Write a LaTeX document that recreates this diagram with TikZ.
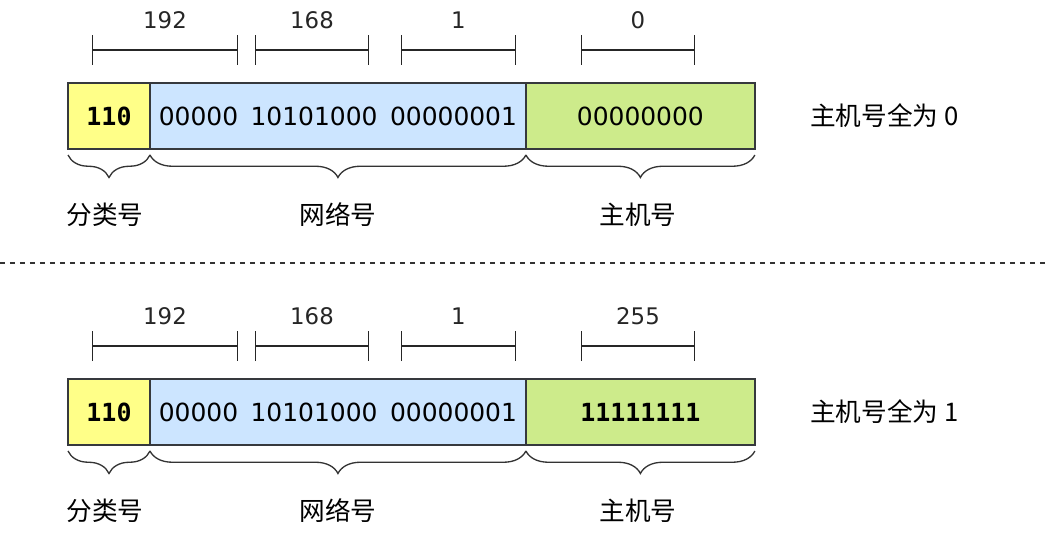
\documentclass[tikz,border=0pt]{standalone}
\usepackage{fontspec}
\setmainfont{DejaVu Sans}
\newfontfamily\cjk{Noto Sans CJK SC}
\newfontfamily\bitmono{DejaVu Sans Mono}
\usetikzlibrary{arrows.meta, positioning, decorations.pathreplacing}
\definecolor{clsyellow}{HTML}{FFFF88}
\definecolor{netblue}{HTML}{CCE5FF}
\definecolor{hostgreen}{HTML}{CDEB8B}
\definecolor{edgegray}{HTML}{36393D}
\newcommand{\octgap}{\hspace{0.5em}}
\tikzset{
  field/.style = {draw=edgegray, line width=0.8pt, minimum height=1.32cm,
    inner sep=0pt, outer sep=0pt, font=\fontsize{14.2pt}{16pt}\selectfont},
  boldbits/.style = {font=\bitmono\bfseries\fontsize{14.2pt}{16pt}\selectfont},
  octet/.style = {{Bar[width=0.6cm]}-{Bar[width=0.6cm]}, line width=0.75pt, black!85},
  octetnum/.style = {font=\fontsize{13pt}{15pt}\selectfont, black!85},
  part/.style = {decorate, decoration={brace, mirror, amplitude=0.45cm, raise=0.12cm},
    line width=0.75pt, black!80},
  tag/.style = {font=\cjk\fontsize{14.6pt}{17pt}\selectfont},
  note/.style = {font=\cjk\fontsize{14.6pt}{17pt}\selectfont, inner sep=0pt},
  cut/.style = {line width=0.8pt, dash pattern=on 0.11cm off 0.09cm, black!80}
}

\begin{document}
\begin{tikzpicture}[x=0.02cm, y=0.02cm]
  \useasboundingbox (0,0) rectangle (1048,539);

  % host part all zeros
  \node (cls1) [field, boldbits, fill=clsyellow, minimum width=1.64cm] at (109,423) {110};
  \node (net1) [field, fill=netblue, minimum width=7.52cm, right=0pt of cls1] {00000\octgap 10101000\octgap 00000001};
  \node (host1) [field, fill=hostgreen, minimum width=4.58cm, right=0pt of net1] {00000000};
  \node (note1) [note, right=1.1cm of host1] {主机号全为 0};

  \coordinate (o1a) at (92,489);  \coordinate (o1b) at (238,489);
  \coordinate (o2a) at (255,489); \coordinate (o2b) at (369,489);
  \coordinate (o3a) at (401,489); \coordinate (o3b) at (516,489);
  \coordinate (o4a) at (581,489); \coordinate (o4b) at (695,489);
  \draw[octet] (o1a) -- (o1b) node (n1) [octetnum, midway, yshift=0.6cm] {192};
  \draw[octet] (o2a) -- (o2b) node (n2) [octetnum, midway, yshift=0.6cm] {168};
  \draw[octet] (o3a) -- (o3b) node (n3) [octetnum, midway, yshift=0.6cm] {1};
  \draw[octet] (o4a) -- (o4b) node (n4) [octetnum, midway, yshift=0.6cm] {0};

  \draw[part] (cls1.south west) -- (cls1.south east);
  \draw[part] (net1.south west) -- (net1.south east);
  \draw[part] (host1.south west) -- (host1.south east);
  \node (clstag1) [tag] at ([xshift=-0.08cm, yshift=-1.98cm]cls1) {分类号};
  \node (nettag1) [tag] at ([yshift=-1.98cm]net1) {网络号};
  \node (hosttag1) [tag] at ([xshift=-0.05cm, yshift=-1.98cm]host1) {主机号};

  % separator
  \coordinate (cutl) at (0,276);
  \coordinate (cutr) at (1048,276);
  \draw[cut] (cutl) -- (cutr);

  % host part all ones
  \node (cls2) [field, boldbits, fill=clsyellow, minimum width=1.64cm] at (109,127) {110};
  \node (net2) [field, fill=netblue, minimum width=7.52cm, right=0pt of cls2] {00000\octgap 10101000\octgap 00000001};
  \node (host2) [field, boldbits, fill=hostgreen, minimum width=4.58cm, right=0pt of net2] {11111111};
  \node (note2) [note, right=1.1cm of host2] {主机号全为 1};

  \coordinate (p1a) at (92,193);  \coordinate (p1b) at (238,193);
  \coordinate (p2a) at (255,193); \coordinate (p2b) at (369,193);
  \coordinate (p3a) at (401,193); \coordinate (p3b) at (516,193);
  \coordinate (p4a) at (581,193); \coordinate (p4b) at (695,193);
  \draw[octet] (p1a) -- (p1b) node (m1) [octetnum, midway, yshift=0.6cm] {192};
  \draw[octet] (p2a) -- (p2b) node (m2) [octetnum, midway, yshift=0.6cm] {168};
  \draw[octet] (p3a) -- (p3b) node (m3) [octetnum, midway, yshift=0.6cm] {1};
  \draw[octet] (p4a) -- (p4b) node (m4) [octetnum, midway, yshift=0.6cm] {255};

  \draw[part] (cls2.south west) -- (cls2.south east);
  \draw[part] (net2.south west) -- (net2.south east);
  \draw[part] (host2.south west) -- (host2.south east);
  \node (clstag2) [tag] at ([xshift=-0.08cm, yshift=-1.98cm]cls2) {分类号};
  \node (nettag2) [tag] at ([yshift=-1.98cm]net2) {网络号};
  \node (hosttag2) [tag] at ([xshift=-0.05cm, yshift=-1.98cm]host2) {主机号};
\end{tikzpicture}
\end{document}
